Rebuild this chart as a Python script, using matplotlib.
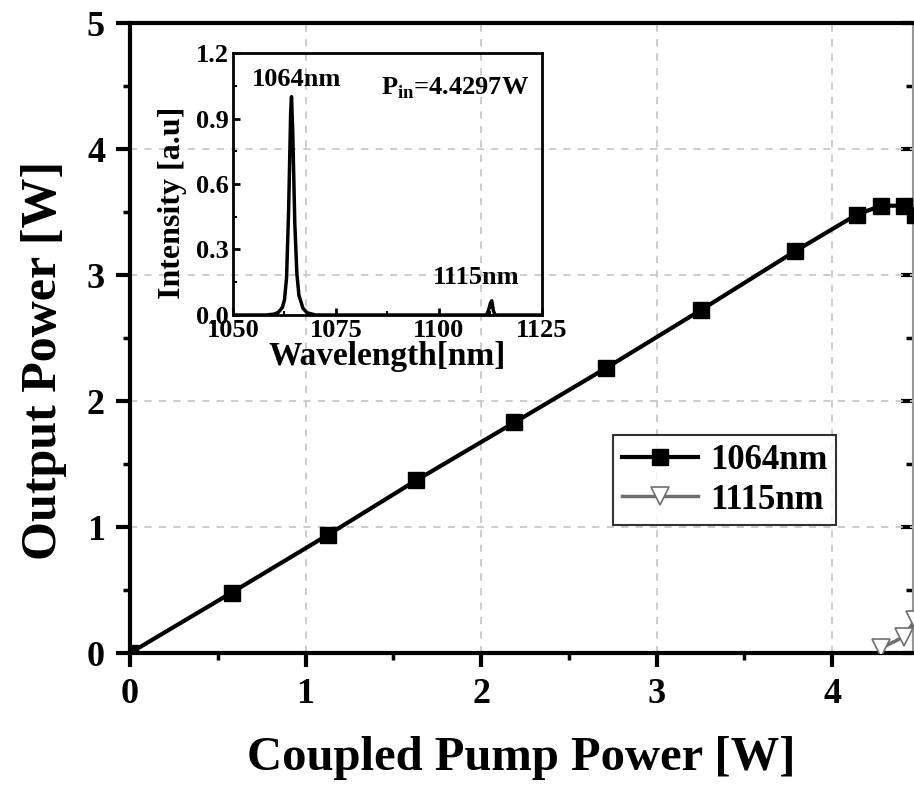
import matplotlib.pyplot as plt
from matplotlib.ticker import MultipleLocator, FormatStrFormatter

plt.rcParams['font.family'] = ['Liberation Serif', 'DejaVu Serif']
plt.rcParams['font.weight'] = 'bold'
plt.rcParams['mathtext.fontset'] = 'custom'
plt.rcParams['mathtext.rm'] = 'Liberation Serif:bold'

# main plot data
pump_1064 = [0, 0.58, 1.13, 1.63, 2.19, 2.71, 3.25, 3.79, 4.14, 4.28, 4.41, 4.47]
out_1064 = [0, 0.48, 0.94, 1.37, 1.83, 2.26, 2.72, 3.19, 3.48, 3.55, 3.55, 3.48]
pump_1115 = [4.28, 4.41, 4.47]
out_1115 = [0.04, 0.13, 0.26]

# inset spectrum at Pin = 4.4297 W
wl = [1050, 1058, 1060, 1061, 1062, 1062.5, 1063, 1063.5, 1064, 1064.2, 1064.5,
      1065, 1065.5, 1066, 1067, 1068, 1070, 1111.5, 1112, 1112.5, 1112.8,
      1113.2, 1113.6, 1125]
inten = [0, 0, 0.004, 0.012, 0.035, 0.07, 0.17, 0.48, 0.93, 1.0, 0.84,
         0.42, 0.19, 0.09, 0.03, 0.01, 0, 0, 0.02, 0.055, 0.065,
         0.02, 0, 0]

fig = plt.figure(figsize=(9.14, 7.87), dpi=100)
ax = fig.add_axes([130 / 914, 134 / 787, 783 / 914, 630 / 787])

ax.plot(pump_1064, out_1064, color='black', lw=3, marker='s', ms=11,
        label='1064nm', zorder=3)
ax.plot(pump_1115, out_1115, color='#6e6e6e', lw=2.5, marker='v', ms=13,
        mfc='white', mec='#6e6e6e', mew=1.2, label='1115nm', zorder=3)

ax.set_xlim(0, 4.46)
ax.set_ylim(0, 5)
ax.xaxis.set_major_locator(MultipleLocator(1))
ax.xaxis.set_minor_locator(MultipleLocator(0.5))
ax.yaxis.set_major_locator(MultipleLocator(1))
ax.yaxis.set_minor_locator(MultipleLocator(0.5))
ax.grid(True, which='major', color='#c8c8c8', ls=(0, (4, 4)), lw=1.3)
for s in ax.spines.values():
    s.set_linewidth(3)
ax.spines['right'].set_visible(False)
ax.tick_params(which='major', length=10, width=3, labelsize=26, pad=8)
ax.tick_params(which='minor', length=5, width=2.5)
for t in ax.get_xticklabels() + ax.get_yticklabels():
    t.set_fontweight('bold')

# right side: thin spine with inward ticks
sec = ax.secondary_yaxis('right')
sec.yaxis.set_major_locator(MultipleLocator(1))
sec.yaxis.set_minor_locator(MultipleLocator(0.5))
sec.tick_params(which='major', direction='in', length=9, width=3, labelright=False)
sec.tick_params(which='minor', direction='in', length=5, width=2.5)
sec.spines['right'].set_linewidth(1.5)
sec.spines['right'].set_color('#999999')

ax.set_xlabel('Coupled Pump Power [W]', fontsize=35, fontweight='bold', labelpad=18)
ax.set_ylabel('Output Power [W]', fontsize=36, fontweight='bold')
ax.yaxis.set_label_coords(-0.08, 0.465)

leg = ax.legend(loc='upper left', bbox_to_anchor=((613 - 130) / 783, (653 - 435) / 630),
                fontsize=25, frameon=True, fancybox=False, edgecolor='black',
                handlelength=2.2, borderpad=0.25, labelspacing=0.2,
                handletextpad=0.35, borderaxespad=0)
leg.get_frame().set_linewidth(1.5)
for t in leg.get_texts():
    t.set_fontweight('bold')

# inset
ins = fig.add_axes([233 / 914, (787 - 315) / 787, 309 / 914, 262 / 787])
ins.patch.set_alpha(0)
ins.plot(wl, inten, color='black', lw=2.5)
ins.set_xlim(1050, 1125)
ins.set_ylim(0, 1.2)
ins.xaxis.set_major_locator(MultipleLocator(25))
ins.xaxis.set_minor_locator(MultipleLocator(12.5))
ins.yaxis.set_major_locator(MultipleLocator(0.3))
ins.yaxis.set_minor_locator(MultipleLocator(0.15))
ins.yaxis.set_major_formatter(FormatStrFormatter('%.1f'))
for s in ins.spines.values():
    s.set_linewidth(2)
ins.tick_params(which='major', direction='in', length=5, width=2,
                labelsize=19, pad=3)
ins.tick_params(which='minor', direction='in', length=3, width=1.5)
for t in ins.get_xticklabels() + ins.get_yticklabels():
    t.set_fontweight('bold')
ins.set_xlabel('Wavelength[nm]', fontsize=24, fontweight='bold')
ins.xaxis.set_label_coords(0.5, -0.10)
ins.set_ylabel('Intensity [a.u]', fontsize=23, fontweight='bold')
ins.yaxis.set_label_coords(-0.15, 0.43)
ins.text(1065.5, 1.08, '1064nm', fontsize=19, fontweight='bold',
         ha='center', va='center')
ins.text(1086, 1.04, r'P$_{\rm in}$=4.4297W', fontsize=19, fontweight='bold',
         ha='left', va='center')
ins.text(1098.5, 0.17, '1115nm', fontsize=19, fontweight='bold',
         ha='left', va='center')

fig.savefig('out.png', dpi=100)
